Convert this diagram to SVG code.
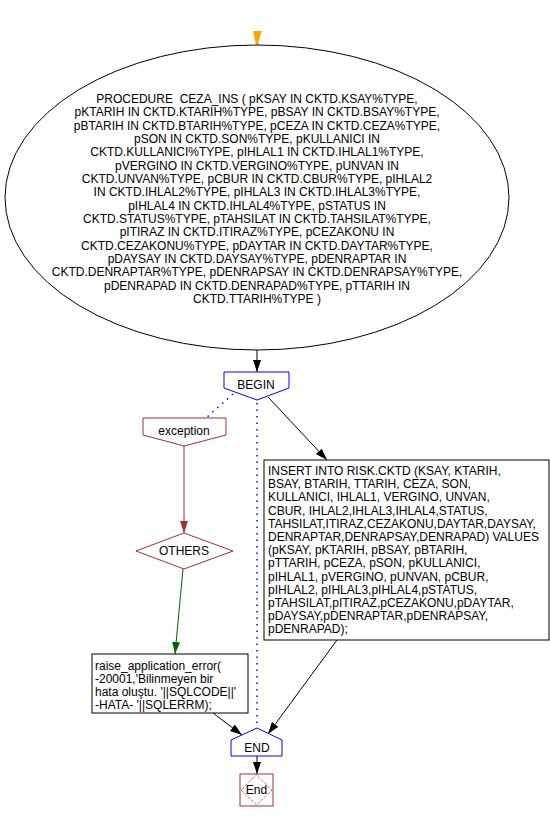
<svg xmlns="http://www.w3.org/2000/svg" width="550" height="821" viewBox="0 0 550 821">
<style>
text{font-family:"Liberation Sans",Arial,sans-serif;font-size:12px;fill:#000}
.c{text-anchor:middle}
.blk{stroke:#000;stroke-width:1;fill:none}
.blu{stroke:#0000ff;stroke-width:1;fill:#fff}
.red{stroke:#a03030;stroke-width:1;fill:#fff}
.dot{stroke:#0000ff;stroke-width:1.5;stroke-dasharray:1.5,5;fill:none}
</style>
<defs>
<marker id="ab" markerWidth="13" markerHeight="10" refX="12" refY="5" orient="auto" markerUnits="userSpaceOnUse"><path d="M0,1 L12,5 L0,9 z" fill="#000"/></marker>
<marker id="ar" markerWidth="13" markerHeight="10" refX="12" refY="5" orient="auto" markerUnits="userSpaceOnUse"><path d="M0,1 L12,5 L0,9 z" fill="#a03030"/></marker>
<marker id="ag" markerWidth="13" markerHeight="10" refX="12" refY="5" orient="auto" markerUnits="userSpaceOnUse"><path d="M0,1 L12,5 L0,9 z" fill="#006400"/></marker>
</defs>
<g id="connectors">
<line class="blk" x1="257" y1="350" x2="257" y2="372" marker-end="url(#ab)"/>
<line class="dot" x1="233" y1="394" x2="206" y2="418"/>
<line class="dot" x1="257" y1="403" x2="257" y2="728"/>
<line class="blk" x1="268" y1="397" x2="327" y2="460" marker-end="url(#ab)"/>
<line x1="184" y1="446" x2="184" y2="533" stroke="#a03030" marker-end="url(#ar)"/>
<line x1="183" y1="569" x2="175" y2="654" stroke="#006400" marker-end="url(#ag)"/>
<line class="blk" x1="337" y1="640" x2="268" y2="734" marker-end="url(#ab)"/>
<line class="blk" x1="213" y1="713" x2="242" y2="735" marker-end="url(#ab)"/>
<line class="blk" x1="257" y1="756" x2="257" y2="774" marker-end="url(#ab)"/>
</g>
<g id="start">
<polygon points="253,31 262,31 259,40 258,46 256,46 255,40" fill="#ffa500"/>
</g>
<g id="procedure">
<ellipse cx="257" cy="197.5" rx="252" ry="152.5" fill="#fff" stroke="#000"/>
<text class="c" x="257" y="103" xml:space="preserve">PROCEDURE  CEZA_INS ( pKSAY IN CKTD.KSAY%TYPE,</text>
<text class="c" x="257" y="116.3">pKTARIH IN CKTD.KTARIH%TYPE, pBSAY IN CKTD.BSAY%TYPE,</text>
<text class="c" x="257" y="129.7">pBTARIH IN CKTD.BTARIH%TYPE, pCEZA IN CKTD.CEZA%TYPE,</text>
<text class="c" x="257" y="143">pSON IN CKTD.SON%TYPE, pKULLANICI IN</text>
<text class="c" x="257" y="156.3">CKTD.KULLANICI%TYPE, pIHLAL1 IN CKTD.IHLAL1%TYPE,</text>
<text class="c" x="257" y="169.7">pVERGINO IN CKTD.VERGINO%TYPE, pUNVAN IN</text>
<text class="c" x="257" y="183">CKTD.UNVAN%TYPE, pCBUR IN CKTD.CBUR%TYPE, pIHLAL2</text>
<text class="c" x="257" y="196.3">IN CKTD.IHLAL2%TYPE, pIHLAL3 IN CKTD.IHLAL3%TYPE,</text>
<text class="c" x="257" y="209.7">pIHLAL4 IN CKTD.IHLAL4%TYPE, pSTATUS IN</text>
<text class="c" x="257" y="223">CKTD.STATUS%TYPE, pTAHSILAT IN CKTD.TAHSILAT%TYPE,</text>
<text class="c" x="257" y="236.3">pITIRAZ IN CKTD.ITIRAZ%TYPE, pCEZAKONU IN</text>
<text class="c" x="257" y="249.7">CKTD.CEZAKONU%TYPE, pDAYTAR IN CKTD.DAYTAR%TYPE,</text>
<text class="c" x="257" y="263">pDAYSAY IN CKTD.DAYSAY%TYPE, pDENRAPTAR IN</text>
<text class="c" x="257" y="276.3">CKTD.DENRAPTAR%TYPE, pDENRAPSAY IN CKTD.DENRAPSAY%TYPE,</text>
<text class="c" x="257" y="289.7">pDENRAPAD IN CKTD.DENRAPAD%TYPE, pTTARIH IN</text>
<text class="c" x="257" y="303">CKTD.TTARIH%TYPE )</text>
</g>
<g id="begin">
<polygon class="blu" points="224,372 289,372 289,388 257,400 224,388"/>
<text class="c" x="256" y="389">BEGIN</text>
</g>
<g id="exception">
<polygon class="red" points="143,418 226,418 226,435 184,446 143,435"/>
<text class="c" x="184" y="435">exception</text>
</g>
<g id="others">
<polygon class="red" points="136,551 184,533 233,551 184,569"/>
<text class="c" x="184" y="555">OTHERS</text>
</g>
<g id="insert">
<rect x="264" y="460" width="285" height="180" fill="#fff" stroke="#000"/>
<text x="268" y="475">INSERT INTO RISK.CKTD (KSAY, KTARIH,</text>
<text x="268" y="488.2">BSAY, BTARIH, TTARIH, CEZA, SON,</text>
<text x="268" y="501.4">KULLANICI, IHLAL1, VERGINO, UNVAN,</text>
<text x="268" y="514.6">CBUR, IHLAL2,IHLAL3,IHLAL4,STATUS,</text>
<text x="268" y="527.8">TAHSILAT,ITIRAZ,CEZAKONU,DAYTAR,DAYSAY,</text>
<text x="268" y="541">DENRAPTAR,DENRAPSAY,DENRAPAD) VALUES</text>
<text x="268" y="554.2">(pKSAY, pKTARIH, pBSAY, pBTARIH,</text>
<text x="268" y="567.4">pTTARIH, pCEZA, pSON, pKULLANICI,</text>
<text x="268" y="580.6">pIHLAL1, pVERGINO, pUNVAN, pCBUR,</text>
<text x="268" y="593.8">pIHLAL2, pIHLAL3,pIHLAL4,pSTATUS,</text>
<text x="268" y="607">pTAHSILAT,pITIRAZ,pCEZAKONU,pDAYTAR,</text>
<text x="268" y="620.2">pDAYSAY,pDENRAPTAR,pDENRAPSAY,</text>
<text x="268" y="633.4">pDENRAPAD);</text>
</g>
<g id="raise">
<rect x="92" y="654" width="156" height="59" fill="#fff" stroke="#000"/>
<text x="95" y="670">raise_application_error(</text>
<text x="95" y="683">-20001,'Bilinmeyen bir</text>
<text x="95" y="696">hata oluştu. '||SQLCODE||'</text>
<text x="95" y="709">-HATA- '||SQLERRM);</text>
</g>
<g id="end">
<polygon class="blu" points="231,740 257,728 282,740 282,756 231,756"/>
<text class="c" x="257" y="752">END</text>
</g>
<g id="endterm">
<rect x="240" y="774" width="33" height="32" fill="#fff" stroke="#a03030"/>
<polygon points="256.5,775 272,790 256.5,805 241,790" fill="none" stroke="#a03030" stroke-dasharray="1,1"/>
<text class="c" x="256.5" y="794">End</text>
</g>
</svg>
